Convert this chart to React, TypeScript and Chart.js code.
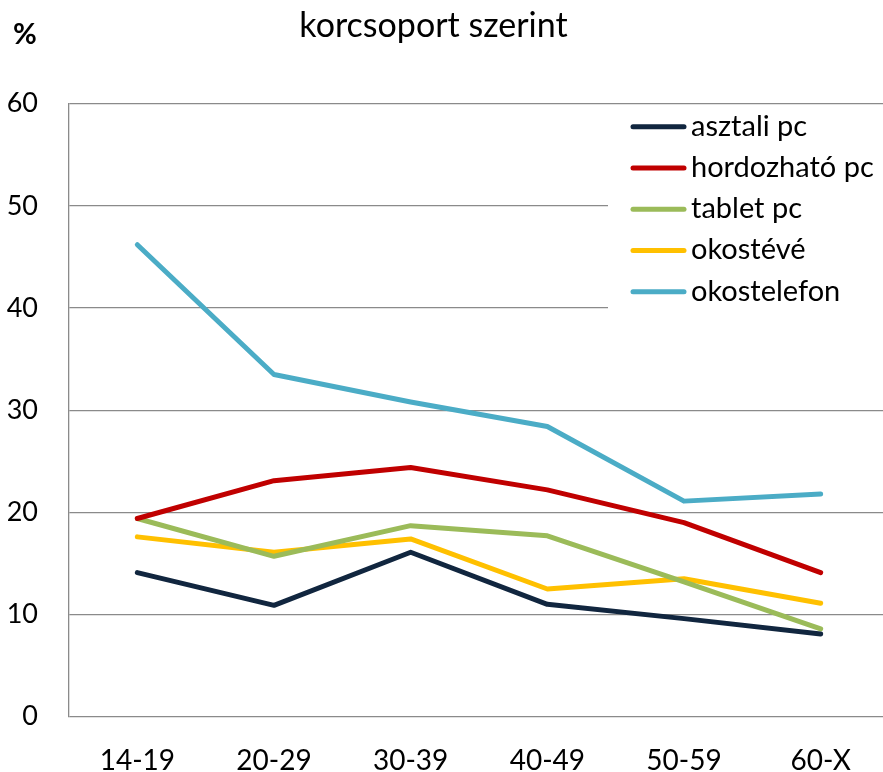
import React, { useEffect, useRef } from "react";
import { Chart, registerables } from "chart.js";

Chart.register(...registerables);

const TITLE = "korcsoport szerint";
const UNIT = "%";
const CATEGORIES = ["14-19", "20-29", "30-39", "40-49", "50-59", "60-X"];
const SERIES_NAMES = ["asztali pc", "hordozható pc", "tablet pc", "okostévé", "okostelefon"];
const ASZTALI = [14.1, 10.9, 16.1, 11.0, 9.6, 8.1];
const HORDOZHATO = [19.4, 23.1, 24.4, 22.2, 19.0, 14.1];
const TABLET = [19.4, 15.7, 18.7, 17.7, 13.2, 8.6];
const OKOSTEVE = [17.6, 16.1, 17.4, 12.5, 13.5, 11.1];
const OKOSTELEFON = [46.2, 33.5, 30.8, 28.4, 21.1, 21.8];
const Y_MIN = 0;
const Y_MAX = 60;
const Y_STEP = 10;

const COLORS = ["#11263F", "#C00000", "#9BBB59", "#FFC000", "#4BACC6"];
const FONT = "Lato, 'Open Sans', sans-serif";
const GRID = "#8A8A8A";

export default function App() {
  const ref = useRef<HTMLCanvasElement | null>(null);

  useEffect(() => {
    document.body.style.overflow = "hidden";
    const canvas = ref.current;
    if (!canvas) return;
    const values = [ASZTALI, HORDOZHATO, TABLET, OKOSTEVE, OKOSTELEFON];

    const decor = {
      id: "decor",
      beforeDatasetsDraw(chart: any) {
        const ctx = chart.ctx;
        ctx.save();
        // legend box
        ctx.fillStyle = "#ffffff";
        ctx.fillRect(608, 108, 290, 210);
        chart.data.datasets.forEach((ds: any, i: number) => {
          const y = 126.7 + i * 41.25;
          ctx.strokeStyle = ds.borderColor;
          ctx.lineWidth = 5;
          ctx.lineCap = "round";
          ctx.beginPath();
          ctx.moveTo(633, y);
          ctx.lineTo(684, y);
          ctx.stroke();
          ctx.fillStyle = "#000";
          ctx.font = `29px ${FONT}`;
          ctx.textAlign = "left";
          ctx.textBaseline = "alphabetic";
          ctx.fillText(ds.label, 691, y + 9);
        });
        ctx.restore();
      },
      afterDraw(chart: any) {
        const ctx = chart.ctx;
        ctx.save();
        ctx.fillStyle = "#000";
        ctx.textBaseline = "alphabetic";
        ctx.textAlign = "center";
        ctx.font = `34px ${FONT}`;
        ctx.fillText(TITLE, 433.5, 37);
        ctx.textAlign = "left";
        ctx.font = `bold 29px ${FONT}`;
        ctx.fillText(UNIT, 13, 44);
        ctx.restore();
      },
    };

    const chart = new Chart(canvas, {
      type: "line",
      data: {
        labels: CATEGORIES,
        datasets: SERIES_NAMES.map((name, i) => ({
          label: name,
          data: values[i],
          borderColor: COLORS[i],
          backgroundColor: COLORS[i],
          borderWidth: 5,
          pointRadius: 0,
          tension: 0,
          borderCapStyle: "round",
          borderJoinStyle: "round",
          fill: false,
        })),
      },
      options: {
        animation: false,
        responsive: true,
        maintainAspectRatio: false,
        layout: { padding: { top: 103.7, left: 0, right: 0, bottom: 0 } },
        plugins: {
          legend: { display: false },
          title: { display: false },
          tooltip: { enabled: false },
        },
        scales: {
          x: {
            offset: true,
            grid: { display: false, drawTicks: false },
            border: { display: false },
            ticks: {
              color: "#000",
              font: { family: FONT, size: 28 },
              padding: 27,
              maxRotation: 0,
            },
            afterFit(scale: any) {
              scale.height = 772 - 716.7;
            },
          },
          y: {
            min: Y_MIN,
            max: Y_MAX,
            grid: { color: GRID, lineWidth: 1.3, drawTicks: false },
            border: { display: true, color: GRID, width: 1.3 },
            ticks: {
              stepSize: Y_STEP,
              color: "#000",
              font: { family: FONT, size: 27 },
              padding: 31,
            },
            afterFit(scale: any) {
              scale.width = 69;
            },
          },
        },
      },
      plugins: [decor],
    });
    return () => chart.destroy();
  }, []);

  return (
    <div style={{ position: "fixed", left: 0, top: 0, width: 889, height: 772, background: "#fff" }}>
      <canvas ref={ref} />
    </div>
  );
}
